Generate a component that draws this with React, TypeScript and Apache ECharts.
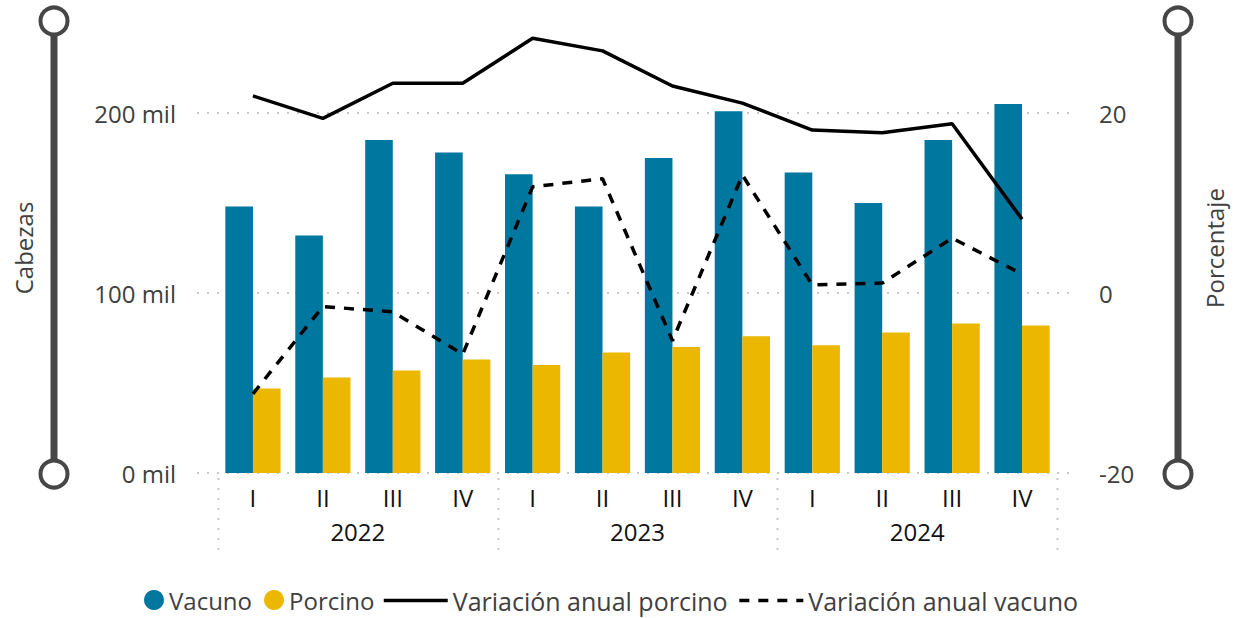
import React, { useEffect, useRef } from "react";
import * as echarts from "echarts";

const quarters = ["I", "II", "III", "IV", "I", "II", "III", "IV", "I", "II", "III", "IV"];
const years = ["2022", "2023", "2024"];
const vacuno = [148, 132, 185, 178, 166, 148, 175, 201, 167, 150, 185, 205];
const porcino = [47, 53, 57, 63, 60, 67, 70, 76, 71, 78, 83, 82];
const varPorcino = [21.9, 19.4, 23.3, 23.3, 28.3, 26.9, 23.0, 21.1, 18.1, 17.8, 18.8, 8.2];
const varVacuno = [-11.2, -1.5, -2.1, -6.8, 11.8, 12.7, -5.3, 13.1, 0.9, 1.1, 6.1, 2.1];
const leftTicks = [0, 100, 200];

const FONT = "'Segoe UI', 'Open Sans', sans-serif";
const GRID = { left: 218, right: 176, top: 23, bottom: 145 };
const W = 1234;
const H = 618;

export default function App() {
  const ref = useRef<HTMLDivElement>(null);
  useEffect(() => {
    if (!ref.current) return;
    const chart = echarts.init(ref.current, undefined, { renderer: "svg" });
    const option: any = {
      animation: false,
      backgroundColor: "#fff",
      textStyle: { fontFamily: FONT },
      grid: { ...GRID, containLabel: false },
      legend: [
        {
          data: ["Vacuno", "Porcino"],
          icon: "circle",
          left: 144,
          top: 588,
          padding: 0,
          itemWidth: 20,
          itemHeight: 20,
          itemGap: 12,
          textStyle: { fontFamily: FONT, fontSize: 24, color: "#404040" },
        },
        {
          data: ["Variación anual porcino", "Variación anual vacuno"],
          right: 156,
          top: 588,
          padding: 0,
          itemWidth: 64,
          itemHeight: 20,
          itemGap: 10,
          itemStyle: { color: "rgba(0,0,0,0)", borderWidth: 0, opacity: 0 },
          lineStyle: { width: 3.5 },
          textStyle: { fontFamily: FONT, fontSize: 25, color: "#404040" },
        },
      ],
      xAxis: [
        {
          type: "category",
          data: quarters,
          axisLine: { show: false },
          axisTick: { show: false },
          splitLine: { show: false },
          axisLabel: { fontFamily: FONT, fontSize: 24, color: "#111", margin: 12, interval: 0 },
        },
        {
          type: "category",
          data: years,
          position: "bottom",
          offset: 5,
          axisLine: { show: false },
          axisTick: { show: false },
          splitLine: { show: false },
          axisLabel: { fontFamily: FONT, fontSize: 24, color: "#111", margin: 41, interval: 0 },
        },
      ],
      yAxis: [
        {
          type: "value",
          min: 0,
          max: 250,
          interval: 100,
          name: "Cabezas",
          nameLocation: "middle",
          nameGap: 183,
          nameTextStyle: { fontFamily: FONT, fontSize: 24, color: "#404040" },
          axisLine: { show: false },
          axisTick: { show: false },
          splitLine: { show: false },
          axisLabel: {
            fontFamily: FONT,
            fontSize: 24,
            color: "#404040",
            margin: 42,
            formatter: (v: number) => (v % 100 === 0 ? `${v} mil` : ""),
          },
        },
        {
          type: "value",
          min: -20,
          max: 30,
          interval: 20,
          name: "Porcentaje",
          nameLocation: "middle",
          nameGap: 145,
          nameTextStyle: { fontFamily: FONT, fontSize: 24, color: "#404040" },
          axisLine: { show: false },
          axisTick: { show: false },
          splitLine: { show: false },
          axisLabel: {
            fontFamily: FONT,
            fontSize: 24,
            color: "#404040",
            margin: 42,
            formatter: (v: number) => (v % 20 === 0 ? `${v}` : ""),
          },
        },
      ],
      series: [
        {
          name: "Vacuno",
          type: "bar",
          data: vacuno,
          xAxisIndex: 0,
          yAxisIndex: 0,
          barGap: "0%",
          barCategoryGap: "21%",
          itemStyle: { color: "#00779F" },
          z: 3,
        },
        {
          name: "Porcino",
          type: "bar",
          data: porcino,
          xAxisIndex: 0,
          yAxisIndex: 0,
          barGap: "0%",
          barCategoryGap: "21%",
          itemStyle: { color: "#EBB700" },
          z: 3,
        },
        {
          name: "Variación anual porcino",
          type: "line",
          data: varPorcino,
          xAxisIndex: 0,
          yAxisIndex: 1,
          symbol: "none",
          lineStyle: { color: "#000", width: 3.5 },
          itemStyle: { color: "#000" },
          z: 4,
        },
        {
          name: "Variación anual vacuno",
          type: "line",
          data: varVacuno,
          xAxisIndex: 0,
          yAxisIndex: 1,
          symbol: "none",
          lineStyle: { color: "#000", width: 3.5, type: [10, 9] },
          itemStyle: { color: "#000" },
          z: 4,
        },
      ],
    };
    chart.setOption(option);

    const gx1 = GRID.left - 21;
    const gx2 = W - GRID.right + 15;
    const dotted = { stroke: "#c8c8c8", lineWidth: 2, lineDash: [2, 8] };
    const gridLines = leftTicks.map((v) => {
      const y = chart.convertToPixel({ yAxisIndex: 0 }, v) as number;
      return {
        type: "line",
        z: 0,
        silent: true,
        shape: { x1: gx1, y1: y, x2: gx2, y2: y },
        style: dotted,
      };
    });
    // year separators at category-group boundaries
    const c0 = chart.convertToPixel({ xAxisIndex: 1 }, 0) as number;
    const c1 = chart.convertToPixel({ xAxisIndex: 1 }, 1) as number;
    const band = c1 - c0;
    const yBase = H - GRID.bottom;
    const seps = [];
    for (let i = 0; i <= years.length; i++) {
      const x = Math.round(c0 - band / 2 + i * band) + 0.5;
      seps.push({
        type: "line",
        z: 0,
        silent: true,
        shape: { x1: x, y1: yBase + 5, x2: x, y2: yBase + 82 },
        style: dotted,
      });
    }
    const yTop = GRID.top - 2;
    const yBot = H - GRID.bottom + 1;
    const slider = (x: number) => [
      {
        type: "line",
        z: 1,
        silent: true,
        shape: { x1: x, y1: yTop, x2: x, y2: yBot },
        style: { stroke: "#464646", lineWidth: 7 },
      },
      {
        type: "circle",
        z: 2,
        silent: true,
        shape: { cx: x, cy: yTop, r: 13.5 },
        style: { fill: "#fff", stroke: "#464646", lineWidth: 4 },
      },
      {
        type: "circle",
        z: 2,
        silent: true,
        shape: { cx: x, cy: yBot, r: 13.5 },
        style: { fill: "#fff", stroke: "#464646", lineWidth: 4 },
      },
    ];
    chart.setOption({ graphic: [...gridLines, ...seps, ...slider(54), ...slider(1178)] });

    return () => chart.dispose();
  }, []);
  return <div ref={ref} style={{ width: W, height: H, position: "absolute", left: 0, top: 0 }} />;
}
